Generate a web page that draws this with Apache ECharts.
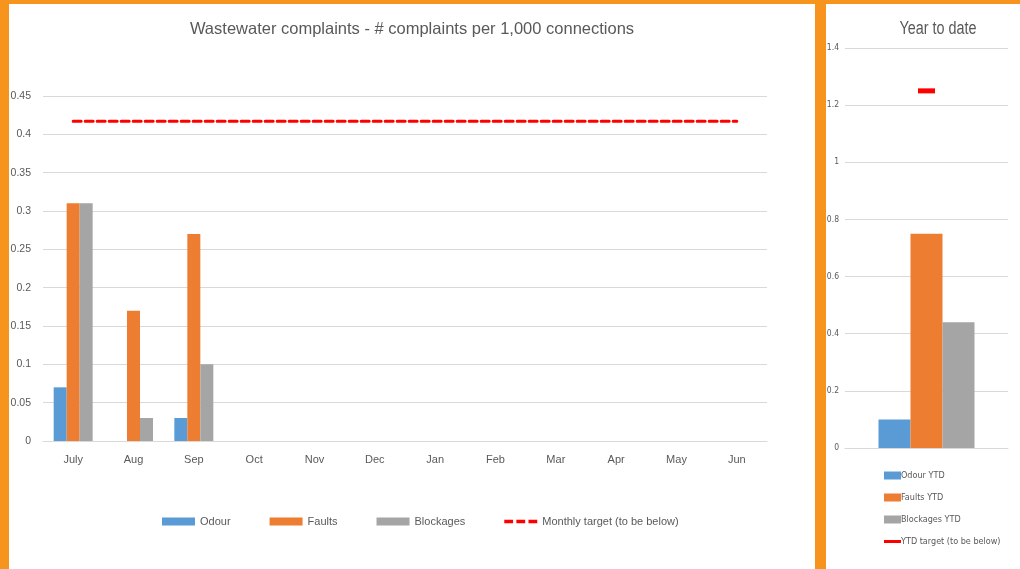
<!DOCTYPE html>
<html>
<head>
<meta charset="utf-8">
<script src="https://cdn.jsdelivr.net/npm/echarts@6/dist/echarts.min.js"></script>
<style>
  html, body { margin: 0; padding: 0; background: #F7941D; }
  #wrap { position: relative; width: 1020px; height: 569px; overflow: hidden; }
  .panel { position: absolute; background: #fff; }
  #main { position: absolute; left: 0; top: 0; width: 1020px; height: 569px; }
</style>
</head>
<body>
<div id="wrap">
  <div class="panel" style="left:9px;top:4px;width:806px;height:565px;"></div>
  <div class="panel" style="left:826px;top:4px;width:194px;height:565px;"></div>
  <div id="main"></div>
</div>
<script>
// monthly data
var months = ['July', 'Aug', 'Sep', 'Oct', 'Nov', 'Dec', 'Jan', 'Feb', 'Mar', 'Apr', 'May', 'Jun'];
var odour = [0.07, 0, 0.03, null, null, null, null, null, null, null, null, null];
var faults = [0.31, 0.17, 0.27, null, null, null, null, null, null, null, null, null];
var blockages = [0.31, 0.03, 0.10, null, null, null, null, null, null, null, null, null];
var monthlyTarget = [0.417, 0.417, 0.417, 0.417, 0.417, 0.417, 0.417, 0.417, 0.417, 0.417, 0.417, 0.417];

// year to date
var ytdCategory = ['YTD'];
var odourYtd = [0.10];
var faultsYtd = [0.75];
var blockagesYtd = [0.44];
var ytdTarget = [1.25];

var txt = '#595959';
var gridLine = '#d9d9d9';
var mainFont = 'Liberation Sans';
var narrowFont = '"Liberation Sans Narrow", "DejaVu Sans Condensed", sans-serif';

var myChart = echarts.init(document.getElementById('main'), null, { renderer: 'canvas' });
var option = {
    backgroundColor: 'transparent',
    animation: false,
    graphic: [
        {
            type: 'text', x: 412, y: 29,
            style: {
                text: 'Wastewater complaints - # complaints per 1,000 connections',
                fill: txt, font: '16.5px "Liberation Sans"', align: 'center', verticalAlign: 'middle'
            }
        },
        {
            type: 'text', x: 938, y: 29, scaleX: 0.8,
            style: {
                text: 'Year to date',
                fill: txt, font: '18px "Liberation Sans"', align: 'center', verticalAlign: 'middle'
            }
        }
    ],
    legend: [
        {
            left: 157, top: 511,
            itemWidth: 33, itemHeight: 8, itemGap: 39,
            textStyle: { color: txt, fontSize: 11, fontFamily: mainFont },
            data: [
                { name: 'Odour', icon: 'rect' },
                { name: 'Faults', icon: 'rect' },
                { name: 'Blockages', icon: 'rect' },
                { name: 'Monthly target (to be below)', icon: 'path://M0,0h8v3h-8z M11,0h8v3h-8z M22,0h8v3h-8z' }
            ]
        },
        {
            left: 879, top: 466, orient: 'vertical',
            itemWidth: 17, itemHeight: 8, itemGap: 13,
            textStyle: { color: txt, fontSize: 9, fontFamily: narrowFont, padding: [0, 0, 0, -5] },
            data: [
                { name: 'Odour YTD', icon: 'rect' },
                { name: 'Faults YTD', icon: 'rect' },
                { name: 'Blockages YTD', icon: 'rect' },
                { name: 'YTD target (to be below)', icon: 'path://M0,0h17v3h-17z' }
            ]
        }
    ],
    grid: [
        { left: 43, right: 253, top: 96, bottom: 128 },
        { left: 845, right: 12, top: 48, bottom: 121 }
    ],
    xAxis: [
        {
            gridIndex: 0, type: 'category', data: months,
            axisLine: { lineStyle: { color: gridLine } },
            axisTick: { show: false },
            axisLabel: { color: txt, fontSize: 11, fontFamily: mainFont, margin: 13 }
        },
        {
            gridIndex: 1, type: 'category', data: ytdCategory,
            axisLine: { lineStyle: { color: gridLine } },
            axisTick: { show: false },
            axisLabel: { show: false }
        }
    ],
    yAxis: [
        {
            gridIndex: 0, type: 'value', min: 0, max: 0.45, interval: 0.05,
            axisLine: { show: false }, axisTick: { show: false },
            splitLine: { lineStyle: { color: gridLine } },
            axisLabel: { color: txt, fontSize: 10.5, fontFamily: mainFont, margin: 12 }
        },
        {
            gridIndex: 1, type: 'value', min: 0, max: 1.4, interval: 0.2,
            axisLine: { show: false }, axisTick: { show: false },
            splitLine: { lineStyle: { color: gridLine } },
            axisLabel: { color: txt, fontSize: 8.5, fontFamily: narrowFont, margin: 6 }
        }
    ],
    series: [
        { name: 'Odour', type: 'bar', xAxisIndex: 0, yAxisIndex: 0, data: odour, barWidth: 13, barGap: 0, itemStyle: { color: '#5B9BD5' } },
        { name: 'Faults', type: 'bar', xAxisIndex: 0, yAxisIndex: 0, data: faults, barWidth: 13, barGap: 0, itemStyle: { color: '#ED7D31' } },
        { name: 'Blockages', type: 'bar', xAxisIndex: 0, yAxisIndex: 0, data: blockages, barWidth: 13, barGap: 0, itemStyle: { color: '#A5A5A5' } },
        {
            name: 'Monthly target (to be below)', type: 'line', xAxisIndex: 0, yAxisIndex: 0, data: monthlyTarget,
            symbol: 'none', itemStyle: { color: '#FF0000' },
            lineStyle: { color: '#FF0000', width: 3, type: [8, 4], cap: 'round' }
        },
        { name: 'Odour YTD', type: 'bar', xAxisIndex: 1, yAxisIndex: 1, data: odourYtd, barWidth: 32, barGap: 0, itemStyle: { color: '#5B9BD5' } },
        { name: 'Faults YTD', type: 'bar', xAxisIndex: 1, yAxisIndex: 1, data: faultsYtd, barWidth: 32, barGap: 0, itemStyle: { color: '#ED7D31' } },
        { name: 'Blockages YTD', type: 'bar', xAxisIndex: 1, yAxisIndex: 1, data: blockagesYtd, barWidth: 32, barGap: 0, itemStyle: { color: '#A5A5A5' } },
        {
            name: 'YTD target (to be below)', type: 'line', xAxisIndex: 1, yAxisIndex: 1, data: ytdTarget,
            symbol: 'rect', symbolSize: [17, 5], itemStyle: { color: '#FF0000' },
            lineStyle: { color: '#FF0000', width: 3 }, z: 5
        }
    ]
};
myChart.setOption(option);
</script>
</body>
</html>
